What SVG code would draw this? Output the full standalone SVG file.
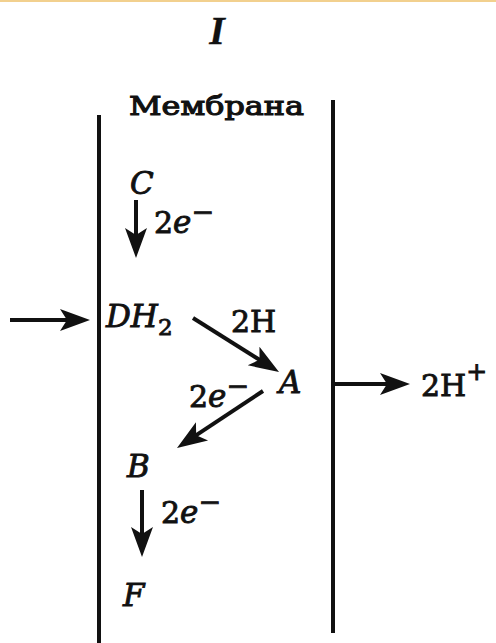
<svg xmlns="http://www.w3.org/2000/svg" width="496" height="643" viewBox="0 0 496 643">
<style>
text{font-family:"DejaVu Serif","Liberation Serif",serif;fill:#111;stroke:#111;stroke-width:0.9;font-size:30px}
.it{font-style:italic;font-size:31px}
.sup{font-size:27px}
.sub{font-size:23px}
.wall{stroke:#111;stroke-width:4;fill:none}
.arr{stroke:#111;stroke-width:4;fill:none;marker-end:url(#ah)}
</style>
<defs>
<marker id="ah" markerUnits="userSpaceOnUse" markerWidth="60" markerHeight="40" viewBox="-30 -20 60 40" refX="0" refY="0" orient="auto" overflow="visible">
<path d="M15,0 L-15,-11 L-8,0 L-15,11 Z" fill="#111"/>
</marker>
</defs>
<rect x="0" y="0" width="496" height="2" fill="#f2d08e"/>
<g id="title"><text x="217" y="44" text-anchor="middle" style="font-family:'Liberation Serif',serif;font-style:italic;font-size:40px;font-weight:bold;stroke-width:0.3">I</text></g>
<g id="membrane">
<text x="129" y="115" style="font-size:26px;stroke-width:1.1" textLength="175" lengthAdjust="spacingAndGlyphs">Мембрана</text>
<line class="wall" x1="99" y1="115" x2="99" y2="643"/>
<line class="wall" x1="333" y1="100" x2="333" y2="633"/>
</g>
<g id="C"><text x="130" y="194" class="it">C</text></g>
<g id="DH2"><text x="106" y="327"><tspan class="it">DH</tspan><tspan class="sub" dy="8">2</tspan></text></g>
<g id="A"><text x="279" y="393" class="it">A</text></g>
<g id="B"><text x="127" y="477" class="it">B</text></g>
<g id="F"><text x="123" y="606" class="it">F</text></g>
<g id="H_out"><text x="421" y="396">2H<tspan style="font-size:25px" dy="-16">+</tspan></text></g>
<g id="connectors">
<line class="arr" x1="10" y1="320" x2="75" y2="320"/>
<line class="arr" x1="136" y1="200" x2="136" y2="243"/>
<line class="arr" x1="193" y1="318" x2="266.3" y2="364"/>
<line class="arr" x1="263" y1="391" x2="189.5" y2="439.7"/>
<line class="arr" x1="142" y1="490" x2="142" y2="542"/>
<line class="arr" x1="333" y1="384" x2="395" y2="384"/>
<text x="154" y="233">2<tspan class="it">e</tspan><tspan class="sup" dy="-12">−</tspan></text>
<text x="231" y="332">2H</text>
<text x="189" y="407">2<tspan class="it">e</tspan><tspan class="sup" dy="-12">−</tspan></text>
<text x="161" y="523">2<tspan class="it">e</tspan><tspan class="sup" dy="-12">−</tspan></text>
</g>
</svg>
